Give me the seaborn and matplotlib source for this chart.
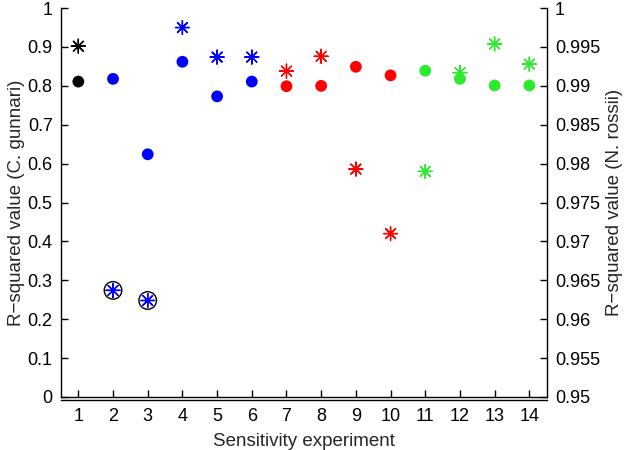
import numpy as np
import pandas as pd
import seaborn as sns
import matplotlib.pyplot as plt

# values
experiment = list(range(1, 15))
group = ["base", "blue", "blue", "blue", "blue", "blue", "red", "red",
         "red", "red", "green", "green", "green", "green"]
r2_gunnari = [0.811, 0.818, 0.624, 0.862, 0.773, 0.811, 0.799, 0.800,
              0.849, 0.827, 0.839, 0.818, 0.801, 0.801]
r2_rossii = [0.9951, 0.9637, 0.9624, 0.9975, 0.9937, 0.9937, 0.9919, 0.9938,
             0.9793, 0.9710, 0.9790, 0.9917, 0.9954, 0.9928]
circled = [2, 3]

colors = {"base": "black", "blue": "#0000ff", "red": "#ff0000", "green": "#2eea2e"}

df = pd.DataFrame({"experiment": experiment, "group": group,
                   "gunnari": r2_gunnari, "rossii": r2_rossii})

sns.set_style("white")
plt.rcParams["font.family"] = ["Liberation Sans", "DejaVu Sans"]

fig = plt.figure(figsize=(6.28, 4.5), dpi=100)
ax = fig.add_axes([0.0971, 0.118, 0.7734, 0.864])
ax2 = ax.twinx()

# C. gunnari: filled dots on left axis
sns.scatterplot(data=df, x="experiment", y="gunnari", hue="group", palette=colors,
                s=72, marker="o", linewidth=0, legend=False, ax=ax)

# N. rossii: asterisks on right axis
sns.scatterplot(data=df, x="experiment", y="rossii", hue="group", palette=colors,
                s=100, marker=(8, 2, 0), linewidth=1.0, legend=False, ax=ax2)
circ = df[df["experiment"].isin(circled)]
sns.scatterplot(data=circ, x="experiment", y="rossii", s=160, marker="o",
                facecolor="none", edgecolor="black", linewidth=1.0,
                legend=False, ax=ax2)

ax.set_xlim(0.5, 14.5)
ax.set_ylim(0, 1)
ax2.set_ylim(0.95, 1)

ax.set_xticks(experiment)
ax.set_yticks(np.arange(0, 1.01, 0.1))
ax.set_yticklabels(["0"] + [f"{v:.1f}" for v in np.arange(0.1, 0.95, 0.1)] + ["1"])
right_ticks = np.arange(0.95, 1.0001, 0.005)
ax2.set_yticks(right_ticks)
ax2.set_yticklabels([f"{v:.3f}".rstrip("0").rstrip(".") for v in right_ticks])

for a in (ax, ax2):
    a.spines["top"].set_visible(False)
    for s in a.spines.values():
        s.set_linewidth(1.0)
        s.set_color("black")
ax.spines["right"].set_visible(False)
ax2.spines["left"].set_visible(False)
ax2.spines["bottom"].set_position(("outward", 2.5))

ax.tick_params(axis="y", direction="in", length=5, width=1, labelsize=13,
               colors="black", left=True, pad=6)
ax.tick_params(axis="x", direction="in", length=5, width=1, labelsize=13,
               colors="black", bottom=True, pad=8)
ax2.tick_params(axis="y", direction="in", length=5, width=1, labelsize=13,
                colors="black", right=True, pad=6)

ax.set_xlabel("Sensitivity experiment", fontsize=13.5, labelpad=6)
ax.set_ylabel("R\u2212squared value (C. gunnari)", fontsize=13.5, labelpad=2)
ax2.set_ylabel("R\u2212squared value (N. rossii)", fontsize=13.5, labelpad=4)

fig.savefig("out.png", dpi=100)
